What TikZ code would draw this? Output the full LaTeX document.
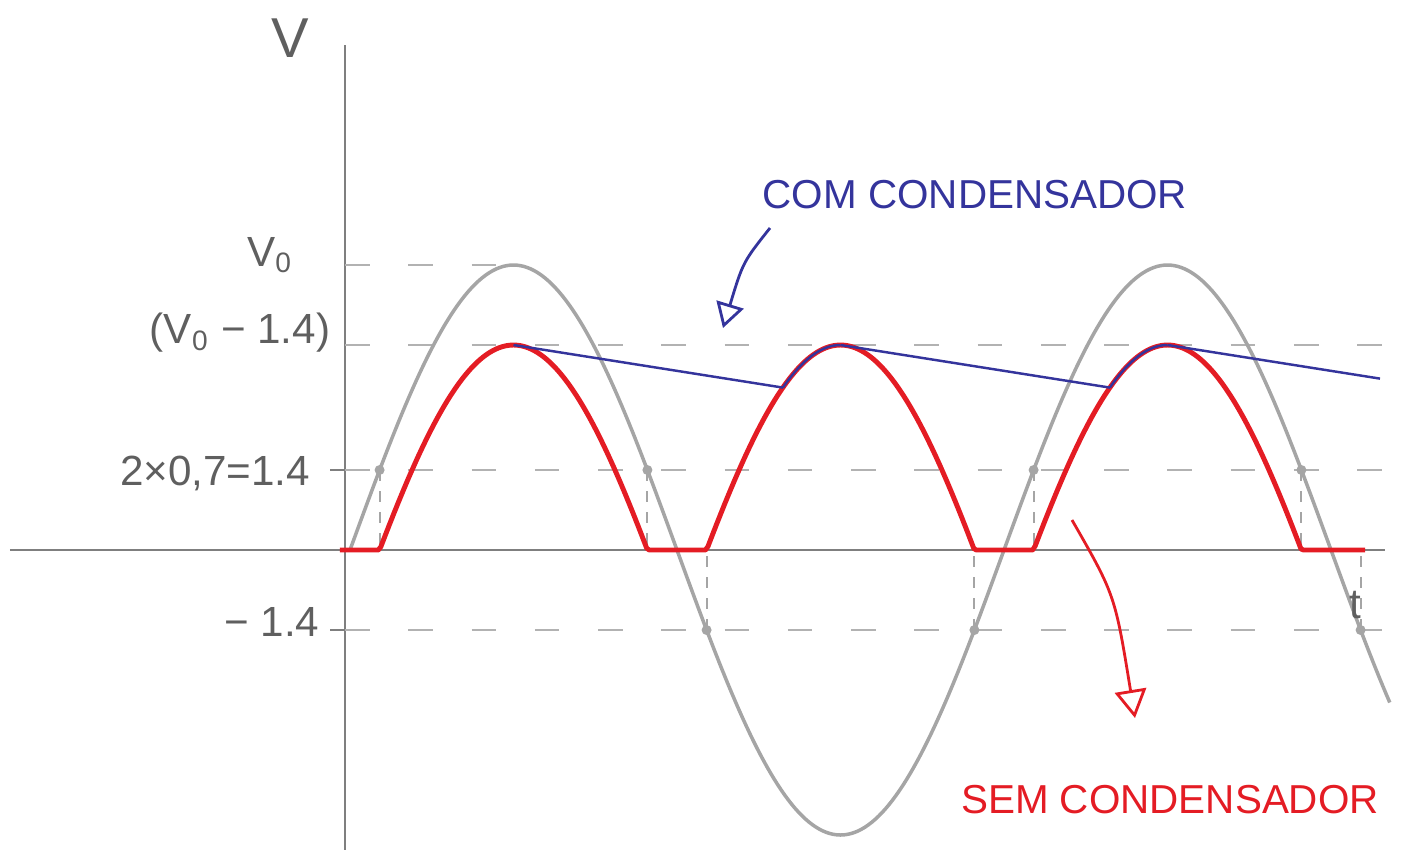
\documentclass[tikz,border=0pt]{standalone}
\usepackage{fontspec}
\setmainfont{Liberation Sans}
\usetikzlibrary{arrows.meta}
\definecolor{penred}{RGB}{228,28,36}
\definecolor{penblue}{RGB}{52,52,156}
\definecolor{pencil}{RGB}{165,165,165}
\definecolor{lead}{RGB}{95,95,95}

\begin{document}
\begin{tikzpicture}[
  declare function={vin(\x)=2.85*sin(180*(\x-0.05)/3.27);},
  level/.style={pencil!85, dash pattern=on 7pt off 11pt, line width=0.6pt},
  drop/.style={pencil, dash pattern=on 3pt off 3pt, line width=0.6pt},
  hand/.style={font=\fontsize{12}{14}\selectfont, text=lead},
  note/.style={font=\fontsize{11.5}{14}\selectfont},
]
  \useasboundingbox (-3.45,-3.03) rectangle (10.61,5.50);
  % Axes.
  \draw[lead!80, line width=0.8pt] (0,5.05) -- (0,-3.0);
  \draw[lead!80, line width=0.8pt] (-3.35,0) -- (10.40,0);
  % Dashed levels: V0, V0-1.4, +1.4 and -1.4.
  \draw[level] (0,2.85) -- (1.55,2.85);
  \draw[level] (0,2.05) -- (10.61,2.05);
  \draw[level] (0,0.8) -- (10.45,0.8);
  \draw[level] (0,-0.8) -- (10.61,-0.8);
  \draw[lead!80, line width=0.8pt] (-0.15,0.8) -- (0,0.8);
  \draw[lead!80, line width=0.8pt] (-0.15,-0.8) -- (0,-0.8);
  % Input sine (pencil).
  \draw[pencil, line width=1pt, samples=300, domain=0.05:10.45, variable=\x]
    plot (\x, {vin(\x)});
  % Where the sine crosses +-1.4, dropped to the axis.
  \foreach \px/\py in {0.346/0.8, 3.024/0.8, 6.886/0.8, 9.564/0.8,
                       3.616/-0.8, 6.294/-0.8, 10.156/-0.8} {
    \draw[drop] (\px,\py) -- (\px,0);
    \fill[pencil] (\px,\py) circle (0.05);
  }
  % Rectified output without capacitor (red).
  \draw[penred, line width=1.4pt, line join=round, samples=400,
        domain=-0.05:10.15, variable=\x]
    plot (\x, {max(abs(vin(\x))-0.8,0)}) -- (10.2,0);
  % Output with capacitor (blue): decay lines and hump tops.
  \draw[penblue, line width=0.7pt] (1.685,2.05) -- (4.38,1.624);
  \draw[penblue, line width=0.7pt, samples=40, domain=4.38:4.955, variable=\x]
    plot (\x, {-vin(\x)-0.8});
  \draw[penblue, line width=0.7pt] (4.955,2.05) -- (7.65,1.624);
  \draw[penblue, line width=0.7pt, samples=40, domain=7.65:8.225, variable=\x]
    plot (\x, {vin(\x)-0.8});
  \draw[penblue, line width=0.7pt] (8.225,2.05) -- (10.35,1.714);
  % Labels.
  \node[hand, font=\fontsize{16}{18}\selectfont] (vaxis) at (-0.55,5.12) {V};
  \node[hand] (vzero) at (-0.75,2.95) {V\textsubscript{0}};
  \node[hand] (vpeak) at (-1.05,2.17) {(V\textsubscript{0} − 1.4)};
  \node[hand] (vdrop) at (-1.30,0.77) {2×0,7=1.4};
  \node[hand] (vneg) at (-0.73,-0.72) {− 1.4};
  \node[hand] (taxis) at (10.10,-0.55) {t};
  \node[note, text=penblue] (comlabel) at (6.30,3.55) {COM CONDENSADOR};
  \node[note, text=penred] (semlabel) at (8.25,-2.50) {SEM CONDENSADOR};
  % Pointers.
  \coordinate (comtail) at (4.25,3.22);
  \coordinate (comtip) at (3.78,2.22);
  \draw[penblue, line width=0.8pt, -{Triangle[open, length=7pt, width=8pt]}]
    (comtail) .. controls (3.98,2.88) .. (comtip);
  \coordinate (semtail) at (7.27,0.30);
  \coordinate (semtip) at (7.90,-1.68);
  \draw[penred, line width=0.8pt, -{Triangle[open, length=8pt, width=9pt]}]
    (semtail) .. controls (7.70,-0.45) .. (semtip);
\end{tikzpicture}
\end{document}
